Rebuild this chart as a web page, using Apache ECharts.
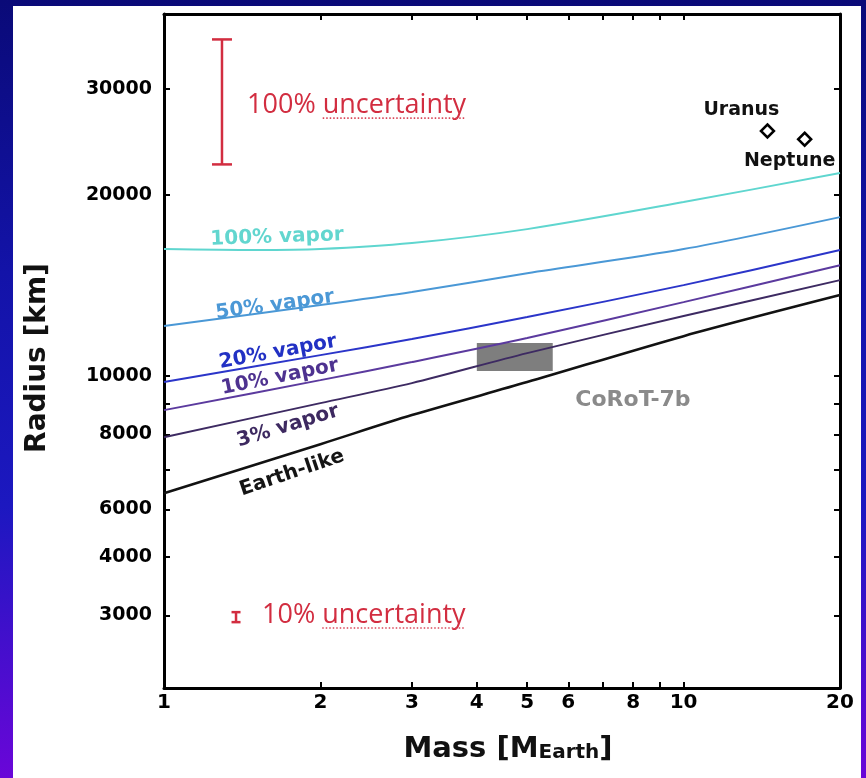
<!DOCTYPE html>
<html>
<head>
<meta charset="utf-8">
<script src="https://cdn.jsdelivr.net/npm/echarts@6/dist/echarts.min.js"></script>
<style>
html,body{margin:0;padding:0;width:866px;height:778px;overflow:hidden;
background:linear-gradient(180deg,#0a0a78 0%,#1313a8 35%,#1c18c0 65%,#6a06d8 100%);}
#chart{position:absolute;left:0;top:0;width:866px;height:778px;}
</style>
</head>
<body>
<div id="chart"></div>
<script>
// ---------------- data ----------------
const massGrid      = [1, 2, 3, 5, 10, 20];
const earthLike     = [6389, 7706, 8613, 9773, 11654, 13637];
const vapor3        = [7915, 9018, 9736, 10920, 12583, 14440];
const vapor10       = [8779, 9848, 10551, 11567, 13275, 15292];
const vapor20       = [9773, 10837, 11523, 12535, 14166, 16200];
const vapor50       = [12113, 13124, 13795, 14832, 16262, 18380];
const vapor100Mass  = [1, 1.5, 2, 3, 5, 10, 20];
const vapor100      = [16262, 16200, 16262, 16640, 17555, 19470, 21760];

const planetNames   = ['Uranus', 'Neptune'];
const planetMass    = [14.5, 17.1];
const planetRadius  = [25559, 24764];

const corotName     = 'CoRoT-7b';
const corotMass     = [4.0, 5.6];
const corotRadius   = [10200, 11350];

const errLabels     = ['100% uncertainty', '10% uncertainty'];
const errMass       = [1.293, 1.376];
const errLow        = [22490, 3899];
const errHigh       = [36290, 4051];

const xRange        = [1, 20];
const yRange        = [3030, 40000];
const xTickLabels   = [1, 2, 3, 4, 5, 6, 8, 10, 20];
const xTickMarks    = [2, 3, 4, 5, 6, 7, 8, 9, 10];
const yTickValues   = [4000, 5000, 6000, 8000, 10000, 20000, 30000];
const yTickLabels   = ['3000', '4000', '6000', '8000', '10000', '20000', '30000'];
const yTickMarks    = [4000, 5000, 6000, 7000, 8000, 9000, 10000, 20000, 30000];

// ---------------- annotation placement & styles ----------------
const curveStyles = [
  {name: 'Earth-like', mass: massGrid,     radius: earthLike, color: '#121212', width: 2.6, lm: 1.763, lr: 6899,  rot: 18.7, lc: '#141414'},
  {name: '3% vapor',   mass: massGrid,     radius: vapor3,    color: '#3d2a62', width: 2.0, lm: 1.732, lr: 8259,  rot: 17,   lc: '#3d2960'},
  {name: '10% vapor',  mass: massGrid,     radius: vapor10,   color: '#5b3a9e', width: 2.0, lm: 1.672, lr: 9962,  rot: 11.5, lc: '#4e3290'},
  {name: '20% vapor',  mass: massGrid,     radius: vapor20,   color: '#2b35c9', width: 2.0, lm: 1.657, lr: 10962, rot: 10.5, lc: '#2231c4'},
  {name: '50% vapor',  mass: massGrid,     radius: vapor50,   color: '#4a98d6', width: 2.0, lm: 1.635, lr: 13124, rot: 8,    lc: '#4b98d6'},
  {name: '100% vapor', mass: vapor100Mass, radius: vapor100,  color: '#5fd6cf', width: 2.0, lm: 1.650, lr: 17020, rot: 2,    lc: '#62d6cf'}
];
const errCapWidth   = [20, 9];
const errTextAnchor = [[1.445, 28220], [1.544, 4006]];
const corotLabelAt  = [7.99, 9122];
const planetLabelOffset = [[-26, -21], [-15, 22]];

const RED = '#d22d40';
const BOLD = '"DejaVu Sans", sans-serif';
const UNC_FONT = '27px "Open Sans", sans-serif';

const L = Math.log10;
const pts = (ms, rs) => ms.map((m, i) => [L(m), L(rs[i])]);

const measureCtx = document.createElement('canvas').getContext('2d');
function textW(t, font) { measureCtx.font = font; return measureCtx.measureText(t).width; }

function yLabelFor(v) {
  let best = 0, bd = Infinity;
  yTickValues.forEach((t, i) => { const d = Math.abs(L(t) - v); if (d < bd) { bd = d; best = i; } });
  return yTickLabels[best];
}

const axisLineStyle = {color: '#000', width: 3};
const tickStyle = {color: '#000', width: 2};

const series = [];

// CoRoT-7b box (under the curves)
series.push({
  type: 'custom', name: corotName, z: 1,
  data: [[L(corotMass[0]), L(corotMass[1]), L(corotRadius[0]), L(corotRadius[1])]],
  encode: {x: [0, 1], y: [2, 3]},
  renderItem: function (params, api) {
    const a = api.coord([api.value(0), api.value(3)]);
    const b = api.coord([api.value(1), api.value(2)]);
    return {type: 'rect', shape: {x: a[0], y: a[1], width: b[0] - a[0], height: b[1] - a[1]},
            style: {fill: '#7e7e7e'}};
  },
  silent: true
});

// curves
curveStyles.forEach(c => {
  series.push({
    type: 'line', name: c.name, z: 3,
    data: pts(c.mass, c.radius),
    showSymbol: false, symbol: 'none',
    smooth: 0.3,
    lineStyle: {color: c.color, width: c.width},
    silent: true
  });
});

// curve labels
series.push({
  type: 'scatter', z: 5, symbolSize: 0, silent: true,
  itemStyle: {opacity: 1},
  data: curveStyles.map(c => ({
    value: [L(c.lm), L(c.lr)],
    label: {show: true, position: 'inside', formatter: c.name, rotate: c.rot, opacity: 1,
            color: c.lc, fontFamily: BOLD, fontWeight: 'bold', fontSize: 20}
  }))
});

// CoRoT label
series.push({
  type: 'scatter', z: 5, symbolSize: 0, silent: true,
  itemStyle: {opacity: 1},
  data: [{value: [L(corotLabelAt[0]), L(corotLabelAt[1])],
          label: {show: true, position: 'inside', formatter: corotName, opacity: 1,
                  color: '#8a8a8a', fontFamily: BOLD, fontWeight: 'bold', fontSize: 22}}]
});

// Uranus / Neptune
series.push({
  type: 'scatter', z: 6, symbol: 'diamond', symbolSize: 13, silent: true,
  itemStyle: {color: '#fff', borderColor: '#000', borderWidth: 2.5, opacity: 1},
  data: planetNames.map((n, i) => ({
    value: [L(planetMass[i]), L(planetRadius[i])],
    label: {show: true, position: 'inside', offset: planetLabelOffset[i], formatter: n, opacity: 1,
            color: '#111', fontFamily: BOLD, fontWeight: 'bold', fontSize: 19}
  }))
});

// error bars
series.push({
  type: 'custom', z: 6, silent: true,
  data: errMass.map((m, i) => [L(m), L(errLow[i]), L(errHigh[i])]),
  encode: {x: 0, y: [1, 2]},
  renderItem: function (params, api) {
    const lo = api.coord([api.value(0), api.value(1)]);
    const hi = api.coord([api.value(0), api.value(2)]);
    const hw = errCapWidth[params.dataIndex] / 2;
    const st = {stroke: RED, lineWidth: 2.5};
    return {type: 'group', children: [
      {type: 'line', shape: {x1: lo[0], y1: lo[1], x2: hi[0], y2: hi[1]}, style: st},
      {type: 'line', shape: {x1: lo[0] - hw, y1: lo[1], x2: lo[0] + hw, y2: lo[1]}, style: st},
      {type: 'line', shape: {x1: hi[0] - hw, y1: hi[1], x2: hi[0] + hw, y2: hi[1]}, style: st}
    ]};
  }
});

// uncertainty texts
series.push({
  type: 'custom', z: 6, silent: true,
  data: errTextAnchor.map(a => [L(a[0]), L(a[1])]),
  encode: {x: 0, y: 1},
  renderItem: function (params, api) {
    const p = api.coord([api.value(0), api.value(1)]);
    const t = errLabels[params.dataIndex];
    const parts = t.split(' ');
    const pre = textW(parts[0] + ' ', UNC_FONT);
    const w = textW(parts[1], UNC_FONT);
    return {type: 'group', children: [
      {type: 'text', x: p[0], y: p[1], style: {text: t, font: UNC_FONT, fill: RED, align: 'left', verticalAlign: 'middle'}},
      {type: 'line', shape: {x1: p[0] + pre, y1: p[1] + 13, x2: p[0] + pre + w, y2: p[1] + 13},
       style: {stroke: '#d9485a', lineWidth: 1.6, lineDash: [1.5, 2]}}
    ]};
  }
});

const xBase = {
  type: 'value', min: L(xRange[0]), max: L(xRange[1]),
  axisLine: {show: true, onZero: false, lineStyle: axisLineStyle},
  splitLine: {show: false},
  axisTick: {show: true, inside: true, length: 6, lineStyle: tickStyle, customValues: xTickMarks.map(L)}
};
const yBase = {
  type: 'value', min: L(yRange[0]), max: L(yRange[1]),
  axisLine: {show: true, onZero: false, lineStyle: axisLineStyle},
  splitLine: {show: false},
  axisTick: {show: true, inside: true, length: 6, lineStyle: tickStyle, customValues: yTickMarks.map(L)}
};

const option = {
  backgroundColor: 'transparent',
  animation: false,
  grid: {left: 164, right: 26, top: 14, bottom: 90, containLabel: false},
  xAxis: [
    Object.assign({}, xBase, {position: 'bottom',
      axisLabel: {show: true, customValues: xTickLabels.map(L), formatter: v => String(Math.round(Math.pow(10, v))),
                  color: '#000', fontFamily: BOLD, fontWeight: 'bold', fontSize: 20, margin: 5}}),
    Object.assign({}, xBase, {position: 'top', axisLabel: {show: false}})
  ],
  yAxis: [
    Object.assign({}, yBase, {position: 'left',
      axisLabel: {show: true, customValues: yTickValues.map(L), formatter: v => yLabelFor(v),
                  color: '#000', fontFamily: BOLD, fontWeight: 'bold', fontSize: 19, margin: 12}}),
    Object.assign({}, yBase, {position: 'right', axisLabel: {show: false}})
  ],
  graphic: [
    {type: 'rect', z: -10, shape: {x: 13, y: 6, width: 848, height: 772}, style: {fill: '#ffffff'}, silent: true},
    {type: 'text', x: 38, y: 358, rotation: Math.PI / 2,
     style: {text: 'Radius [km]', font: 'bold 28px ' + BOLD, fill: '#111', align: 'center', verticalAlign: 'middle'}},
    {type: 'text', x: 508, y: 753,
     style: {text: '{a|Mass [M}{b|Earth}{a|]}', align: 'center', verticalAlign: 'middle', fill: '#111',
       rich: {a: {font: 'bold 29px ' + BOLD, fill: '#111', padding: [0, 0, 8, 0]},
              b: {font: 'bold 20px ' + BOLD, fill: '#111'}}}}
  ],
  series: series
};

const chart = echarts.init(document.getElementById('chart'), null, {renderer: 'canvas'});
chart.setOption(option);
</script>
</body>
</html>
